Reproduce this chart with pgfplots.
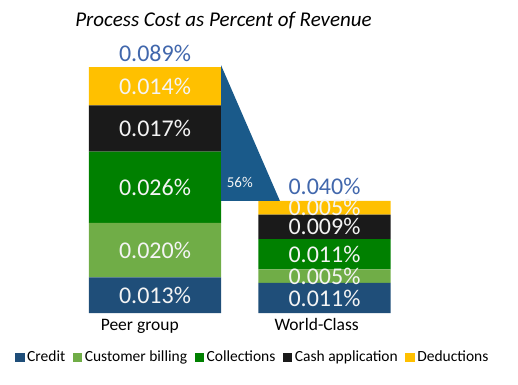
\documentclass[border=0pt]{standalone}
\usepackage{fontspec}
\setmainfont{Carlito}
\usepackage{pgfplots}
\pgfplotsset{compat=1.18}
\definecolor{cCredit}{HTML}{1F4E79}
\definecolor{cBilling}{HTML}{70AD47}
\definecolor{cColl}{HTML}{008000}
\definecolor{cCash}{HTML}{1A1A1A}
\definecolor{cDed}{HTML}{FFC000}
\definecolor{cTri}{HTML}{1A5A8A}
\definecolor{cTot}{HTML}{4167AC}
\definecolor{cLab}{HTML}{F4F4F4}
\begin{document}
\begin{tikzpicture}
\useasboundingbox (0,0) rectangle (518bp,385bp);
\pgfplotsset{
  base/.style={at={(0,72bp)}, anchor=south west, scale only axis,
    width=518bp, height=313bp,
    xmin=-0.9145, xmax=2.1416, ymin=0, ymax=0.11452, clip=false},
  seg/.style={fill=#1, draw=none, nodes near coords, point meta=explicit symbolic,
    every node near coord/.style={anchor=center, inner sep=0pt,
      font=\fontsize{24bp}{24bp}\selectfont, text=cLab},
    legend image code/.code={\fill[#1] (0bp,-0.5bp) rectangle (9.5bp,9bp);}},
}
\begin{axis}[base, ybar stacked, bar width=0.78,
  axis line style={draw=none}, tick style={draw=none}, major tick length=0pt,
  ytick=\empty,
  xtick={-0.090,0.954}, xticklabels={Peer group, World-Class},
  xticklabel style={anchor=base, yshift=-17bp, font=\fontsize{17.5bp}{17.5bp}\selectfont},
  title={\itshape Process Cost as Percent of Revenue},
  title style={at={(axis description cs:0.4315,0.8978)}, anchor=base, yshift=0pt,
    font=\fontsize{21bp}{21bp}\selectfont},
  legend columns=5,
  legend style={draw=none, fill=none, inner sep=0pt,
    at={(axis description cs:0.02896,-0.1182)}, anchor=north west,
    font=\fontsize{15.5bp}{15.5bp}\selectfont,
    cells={anchor=base west},
    nodes={inner xsep=1.5bp, inner ysep=1bp},
    /tikz/every odd column/.append style={column sep=1bp},
    /tikz/every even column/.append style={column sep=6bp}},
]
\addplot[seg=cCredit]  coordinates {(0,0.013)[0.013\%] (1,0.011)[0.011\%]};
\addplot[seg=cBilling] coordinates {(0,0.020)[0.020\%] (1,0.005)[0.005\%]};
\addplot[seg=cColl]    coordinates {(0,0.026)[0.026\%] (1,0.011)[0.011\%]};
\addplot[seg=cCash]    coordinates {(0,0.017)[0.017\%] (1,0.009)[0.009\%]};
\addplot[seg=cDed]     coordinates {(0,0.014)[0.014\%] (1,0.005)[0.005\%]};
\legend{Credit, Customer billing, Collections, Cash application, Deductions}
\end{axis}
\begin{axis}[base, hide axis]
\addplot[fill=cTri, draw=none, mark=none] coordinates {(0.3894,0.0907) (0.737,0.041) (0.3894,0.041)} -- cycle;
\addplot[draw=none, mark=none, nodes near coords, point meta=explicit symbolic,
  every node near coord/.style={anchor=center, inner sep=0pt, text=cLab,
    font=\fontsize{15bp}{15bp}\selectfont}]
  coordinates {(0.50,0.0476)[56\%]};
\addplot[draw=none, mark=none, nodes near coords, point meta=explicit symbolic,
  every node near coord/.style={anchor=base, inner sep=0pt, yshift=6bp, text=cTot,
    font=\fontsize{24bp}{24bp}\selectfont}]
  coordinates {(0,0.090)[0.089\%] (1,0.041)[0.040\%]};
\end{axis}
\end{tikzpicture}
\end{document}
